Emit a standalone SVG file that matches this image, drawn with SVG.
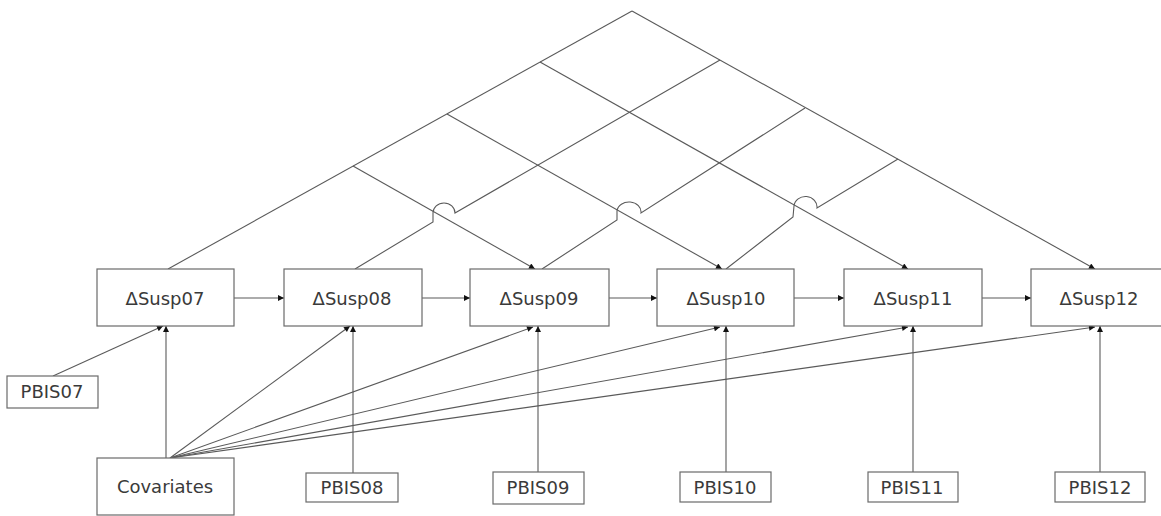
<svg xmlns="http://www.w3.org/2000/svg" width="1161" height="516" viewBox="0 0 1161 516">
<defs>
<style>
.box{fill:#fff;stroke:#6a6a6a;stroke-width:1.2}
.lbl{font-family:"DejaVu Sans","Liberation Sans",sans-serif;font-size:18px;fill:#3a3a3a;text-anchor:middle}
.ln{fill:none;stroke:#5a5a5a;stroke-width:1.1}
.arr{marker-end:url(#ah)}
</style>
<marker id="ah" viewBox="0 0 10 10" refX="10" refY="5" markerWidth="7" markerHeight="6" markerUnits="userSpaceOnUse" orient="auto">
<path d="M0,0 L10,5 L0,10 Z" fill="#111"/>
</marker>
</defs>
<rect width="1161" height="516" fill="#fff"/>
<g id="connectors">
<!-- lattice -->
<path class="ln" d="M168,269 L632,11"/>
<path class="ln arr" d="M632,11 L1095,269"/>
<path class="ln arr" d="M540,62 L908,269"/>
<path class="ln arr" d="M447,114 L722,269"/>
<path class="ln arr" d="M353,166 L535,269"/>
<path class="ln" d="M355,269 L433,222 L433,213 A11,10 0 0 1 455,213 L720,60"/>
<path class="ln" d="M542,269 L617,220 L617,211 A12,10 0 0 1 641,213 L805,108"/>
<path class="ln" d="M726,269 L793,217 L794,206 A11,10 0 0 1 817,208 L898,159"/>
<!-- horizontal -->
<path class="ln arr" d="M234,298 L284,298"/>
<path class="ln arr" d="M422,298 L470,298"/>
<path class="ln arr" d="M609,298 L657,298"/>
<path class="ln arr" d="M794,298 L844,298"/>
<path class="ln arr" d="M982,298 L1031,298"/>
<!-- PBIS -->
<path class="ln arr" d="M53,376 L163,326"/>
<path class="ln arr" d="M353,473 L353,326"/>
<path class="ln arr" d="M538,472 L538,326"/>
<path class="ln arr" d="M726,472 L726,326"/>
<path class="ln arr" d="M913,472 L913,326"/>
<path class="ln arr" d="M1100,472 L1100,326"/>
<!-- covariates -->
<path class="ln arr" d="M166,458 L166,326"/>
<path class="ln arr" d="M170,458 L350,326"/>
<path class="ln arr" d="M170,458 L533,327"/>
<path class="ln arr" d="M170,458 L720,327"/>
<path class="ln arr" d="M170,458 L908,327"/>
<path class="ln arr" d="M170,458 L1095,327"/>
</g>
<g id="dsusp07"><rect class="box" x="97" y="269" width="137" height="57"/><text class="lbl" x="165" y="305">ΔSusp07</text></g>
<g id="dsusp08"><rect class="box" x="284" y="269" width="138" height="57"/><text class="lbl" x="352" y="305">ΔSusp08</text></g>
<g id="dsusp09"><rect class="box" x="470" y="269" width="139" height="57"/><text class="lbl" x="539" y="305">ΔSusp09</text></g>
<g id="dsusp10"><rect class="box" x="657" y="269" width="137" height="57"/><text class="lbl" x="726" y="305">ΔSusp10</text></g>
<g id="dsusp11"><rect class="box" x="844" y="269" width="138" height="57"/><text class="lbl" x="913" y="305">ΔSusp11</text></g>
<g id="dsusp12"><rect class="box" x="1031" y="269" width="137" height="57"/><text class="lbl" x="1099" y="305">ΔSusp12</text></g>
<g id="pbis07"><rect class="box" x="7" y="376" width="91" height="32"/><text class="lbl" x="52" y="398">PBIS07</text></g>
<g id="covariates"><rect class="box" x="97" y="458" width="137" height="57"/><text class="lbl" x="165" y="493">Covariates</text></g>
<g id="pbis08"><rect class="box" x="306" y="473" width="92" height="29"/><text class="lbl" x="352" y="494">PBIS08</text></g>
<g id="pbis09"><rect class="box" x="493" y="472" width="91" height="32"/><text class="lbl" x="538" y="494">PBIS09</text></g>
<g id="pbis10"><rect class="box" x="680" y="472" width="91" height="30"/><text class="lbl" x="725" y="494">PBIS10</text></g>
<g id="pbis11"><rect class="box" x="868" y="472" width="90" height="30"/><text class="lbl" x="912" y="494">PBIS11</text></g>
<g id="pbis12"><rect class="box" x="1055" y="472" width="90" height="30"/><text class="lbl" x="1100" y="494">PBIS12</text></g>
</svg>
